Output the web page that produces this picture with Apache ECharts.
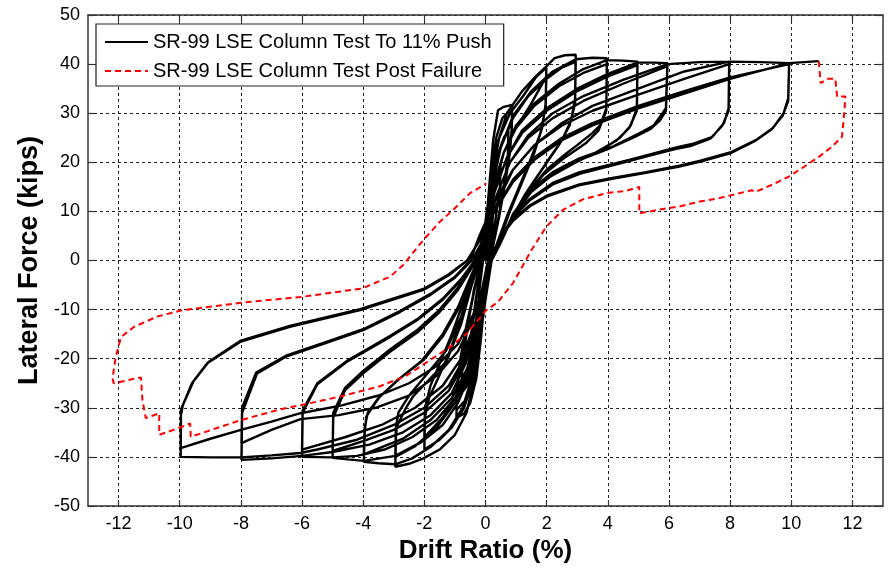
<!DOCTYPE html>
<html><head><meta charset="utf-8">
<script src="https://cdn.jsdelivr.net/npm/echarts@6/dist/echarts.min.js"></script>
<style>html,body{margin:0;padding:0;background:#fff}#c{width:888px;height:569px}</style>
</head><body><div id="c"></div>
<script>
// ---- tick labels ----
const xTicks = [-12,-10,-8,-6,-4,-2,0,2,4,6,8,10,12];
const seriesNames = ['SR-99 LSE Column Test To 11% Push','SR-99 LSE Column Test Post Failure'];

// ---- black series: cycles [drift %, force kips] ----
const cyc_025 = [[0,0],[0.1,5],[0.25,10],[0.22,7],[0.08,0],[-0.05,-4],[-0.25,-10],[-0.22,-7],[-0.08,0]];
const cyc_050 = [[-0.08,0],[0.05,6],[0.2,12.5],[0.38,17.5],[0.5,20],[0.47,15],[0.32,8],[0.12,0],[0,-5],[-0.15,-11.5],[-0.33,-17],[-0.5,-20.5],[-0.47,-15],[-0.32,-8],[-0.12,0]];
const cyc_075 = [[-0.12,0],[0.02,7],[0.2,15],[0.4,21.5],[0.6,25],[0.75,26.5],[0.73,21],[0.58,14],[0.35,6],[0.15,0],[0,-6],[-0.2,-14.5],[-0.4,-21.5],[-0.6,-25.5],[-0.78,-27],[-0.76,-21],[-0.6,-14],[-0.38,-6],[-0.15,0]];
const cyc_1a = [[-0.15,0],[0,6],[0.14,16.4],[0.25,24.5],[0.41,30.6],[0.6,31.3],[0.87,31.7],[0.86,27],[0.8,22],[0.65,16],[0.45,9],[0.25,3],[0.15,0],[0,-6],[-0.15,-16],[-0.3,-24],[-0.5,-29],[-0.7,-31.2],[-0.95,-32],[-0.94,-27],[-0.85,-21],[-0.65,-14],[-0.4,-7],[-0.2,-1.5],[-0.1,0]];
const cyc_1b = [[-0.1,0],[0.05,8],[0.2,18],[0.35,25],[0.55,29],[0.87,31],[0.85,26],[0.72,19.5],[0.52,12],[0.28,4],[0.12,0],[0,-5],[-0.15,-14],[-0.35,-22],[-0.6,-28],[-0.95,-30.5],[-0.93,-26],[-0.8,-20],[-0.55,-12],[-0.3,-4],[-0.15,0]];
const cyc_2a = [[-0.15,0],[0,7],[0.2,17],[0.45,25],[0.8,30],[1.22,33.4],[1.66,37.4],[1.99,39.3],[1.97,32],[1.85,27],[1.6,22],[1.2,16],[0.8,10],[0.45,4],[0.2,0],[0,-7],[-0.2,-16],[-0.4,-24],[-0.7,-30],[-1.1,-34],[-1.5,-36.5],[-2.0,-38.5],[-1.98,-32],[-1.85,-28],[-1.55,-24],[-1.2,-19],[-0.8,-12],[-0.45,-4.5],[-0.2,0]];
const cyc_2b = [[-0.2,0],[0,6],[0.25,15],[0.6,22],[1.0,27],[1.5,32],[1.99,37.5],[1.96,31],[1.8,26],[1.5,21],[1.1,15],[0.7,9],[0.35,3],[0.2,0],[0,-6],[-0.25,-14],[-0.5,-21],[-0.9,-27],[-1.4,-32],[-2.0,-36],[-1.98,-30],[-1.8,-25.5],[-1.5,-21],[-1.1,-15],[-0.7,-8],[-0.35,-2],[-0.2,0]];
const cyc_3a = [[-0.2,0],[0,8],[0.2,17],[0.4,24],[0.7,30],[1.2,34.5],[1.66,37.6],[2.0,39.6],[2.26,41.2],[2.6,41.8],[2.95,41.9],[2.93,33],[2.8,28.5],[2.5,24.5],[2.0,20],[1.4,14.5],[0.9,9],[0.45,3],[0.2,0],[0,-8],[-0.2,-17],[-0.4,-25],[-0.62,-31],[-1,-35.5],[-1.5,-38.5],[-2.03,-40.3],[-2.5,-41.4],[-2.95,-42],[-2.93,-36],[-2.9,-33.8],[-2.6,-30],[-2.37,-27.7],[-1.8,-24],[-1.27,-20.5],[-0.8,-13],[-0.45,-5],[-0.2,0]];
const cyc_3b = [[-0.2,0],[0,7],[0.25,16],[0.5,23],[0.9,29],[1.4,33.5],[2.0,37],[2.5,39.3],[2.95,40.5],[2.93,32],[2.75,27.5],[2.4,23.5],[1.9,19],[1.3,13.5],[0.8,8],[0.4,2.5],[0.2,0],[0,-6],[-0.25,-15],[-0.55,-23],[-1,-29],[-1.6,-34],[-2.3,-37.8],[-2.95,-40],[-2.93,-34],[-2.85,-31],[-2.5,-27.5],[-1.9,-23],[-1.3,-18.5],[-0.8,-11.5],[-0.45,-4],[-0.22,0]];
const cyc_4a = [[-0.22,0],[0,7],[0.25,16],[0.5,23],[0.9,29.5],[1.5,34.5],[2.2,38.5],[2.95,41],[3.5,41.3],[3.97,41.2],[3.95,31],[3.75,27.5],[3.5,26],[3.0,23.5],[2.64,21.8],[2.0,18.5],[1.4,14],[0.9,9],[0.45,3],[0.2,0],[0,-7],[-0.2,-16],[-0.45,-24],[-0.75,-30],[-1.2,-34.5],[-1.8,-38],[-2.4,-40.3],[-2.95,-41.5],[-3.5,-41.3],[-3.98,-41],[-3.95,-35],[-3.9,-31.8],[-3.6,-29],[-3.45,-27.7],[-2.8,-24],[-2.03,-20.3],[-1.4,-15.5],[-0.9,-10],[-0.5,-4],[-0.25,0]];
const cyc_4b = [[-0.25,0],[0,6],[0.3,15],[0.6,22],[1.0,27],[1.6,31.5],[2.4,35.5],[3.2,38.2],[3.97,40],[3.95,30.5],[3.7,26.5],[3.3,24],[2.6,21],[1.9,17.5],[1.3,13],[0.85,8.5],[0.45,3],[0.2,0],[0,-6],[-0.3,-15],[-0.6,-22],[-1.1,-28],[-1.8,-32.5],[-2.7,-36.3],[-3.98,-39.5],[-3.95,-34],[-3.85,-31],[-3.5,-28],[-2.9,-24.5],[-2.1,-20.5],[-1.4,-15],[-0.9,-9.5],[-0.5,-3.5],[-0.25,0]];
const cyc_5a = [[-0.25,0],[0,6],[0.3,15],[0.6,22],[1.0,27.5],[1.6,32],[2.4,36],[3.2,39],[3.97,40.8],[4.5,40.7],[4.97,40.5],[4.95,31],[4.75,27.5],[4.4,25],[3.8,22.5],[3.07,20.5],[2.2,17.5],[1.5,14],[0.9,9],[0.45,3],[0.2,0],[0,-7],[-0.25,-16],[-0.5,-23],[-0.9,-29],[-1.4,-33.5],[-2.1,-37],[-2.95,-39.8],[-3.98,-40.8],[-4.5,-40.5],[-5.0,-40.2],[-4.98,-32],[-4.59,-26.4],[-4.0,-23],[-3.1,-18.5],[-2.2,-14.5],[-1.5,-10.5],[-0.9,-6],[-0.4,-1],[-0.3,0]];
const cyc_5b = [[-0.3,0],[0,6],[0.3,14],[0.7,21],[1.2,26],[2,30.5],[3,34.5],[4,37.5],[4.97,39.8],[4.95,30.5],[4.7,27],[4.3,24.5],[3.6,22],[2.9,19.8],[2.1,17],[1.4,13.5],[0.85,8.5],[0.45,3],[0.2,0],[0,-5],[-0.3,-14],[-0.7,-21],[-1.2,-26.5],[-2,-31],[-3,-34.5],[-4,-36.8],[-5,-38.8],[-4.98,-31],[-4.6,-26],[-4.0,-22.5],[-3.1,-18],[-2.2,-14],[-1.5,-10],[-0.9,-5.5],[-0.4,-1],[-0.3,0]];
const cyc_6a = [[-0.3,0],[0,6],[0.3,14],[0.7,21],[1.2,26.5],[2,31],[3,35],[4,38],[4.97,40.3],[5.5,40.3],[5.95,40.2],[5.9,31],[5.79,30],[5.5,27.5],[5.03,25.9],[4.16,23.2],[3.07,20.8],[2.2,18],[1.5,14.5],[0.9,9.5],[0.45,3],[0.2,0],[0,-6],[-0.25,-15],[-0.55,-22],[-1,-28],[-1.6,-32.5],[-2.4,-36],[-3.3,-38.5],[-4.2,-39.8],[-5,-40.1],[-6,-40],[-5.98,-31],[-5.5,-25.2],[-4.5,-20.5],[-3.1,-15.5],[-2.2,-12],[-1.4,-8],[-0.8,-4],[-0.35,0]];
const cyc_6b = [[-0.35,0],[0,5],[0.35,13],[0.8,20],[1.4,25],[2.2,29],[3.2,32.5],[4.5,36],[5.95,39.6],[5.9,30.5],[5.7,28.5],[5.4,26.8],[4.9,25.2],[4.0,22.7],[3.0,20.3],[2.2,17.6],[1.5,14],[0.9,9],[0.45,3],[0.2,0],[0,-5],[-0.35,-13],[-0.8,-20],[-1.4,-25.5],[-2.3,-30],[-3.4,-33.5],[-4.6,-36],[-6,-38.5],[-5.98,-30.5],[-5.5,-25],[-4.5,-20.3],[-3.1,-15.3],[-2.2,-11.8],[-1.4,-7.8],[-0.8,-3.8],[-0.35,0]];
const cyc_8a = [[-0.35,0],[0,6],[0.35,13],[0.8,20],[1.4,25.5],[2.2,30],[3.2,33.5],[4.5,36.8],[5.95,40],[7,40.4],[7.97,40.5],[7.95,31],[7.8,28],[7.42,25.2],[6.8,23.8],[6.34,23.2],[5.5,21.8],[4.7,20.5],[3.08,18],[2.2,15.8],[1.44,12.5],[0.9,9],[0.45,4],[0.15,0],[0,-6],[-0.3,-14],[-0.65,-21],[-1.1,-27],[-1.8,-31.5],[-2.7,-35],[-3.8,-37.5],[-5,-39],[-6,-39.8],[-7,-40.3],[-7.98,-40.6],[-7.96,-31],[-7.47,-23],[-6.5,-19.5],[-5.3,-17],[-4,-14.2],[-2.8,-10.5],[-1.8,-7],[-1,-3.5],[-0.45,0]];
const cyc_8b = [[-0.45,0],[0,5],[0.4,12],[0.9,18.5],[1.6,23.5],[2.5,27.5],[3.5,30.5],[5,33.8],[6.5,37],[7.97,40],[7.95,30.5],[7.75,27.5],[7.35,24.8],[6.7,23.3],[6.2,22.7],[5.4,21.4],[4.6,20.1],[3.1,17.7],[2.2,15.5],[1.44,12.2],[0.9,8.8],[0.45,3.8],[0.15,0],[0,-5],[-0.4,-12],[-0.9,-18.5],[-1.6,-23.5],[-2.5,-27.5],[-3.6,-30],[-4.8,-31.5],[-6.05,-32.3],[-7,-34.5],[-7.98,-37.2],[-7.96,-30],[-7.5,-22.8],[-6.5,-19.3],[-5.3,-16.8],[-4,-14],[-2.8,-10.3],[-1.8,-6.8],[-1,-3.3],[-0.5,0]];
const cyc_10a = [[-0.5,0],[-0.2,5],[0.3,12],[0.9,18.5],[1.6,23.5],[2.5,28],[3.5,31.5],[5,35],[6.5,38.5],[7.97,40.5],[9,40.4],[9.93,40.2],[9.9,33],[9.75,30],[9.4,27],[8.84,24.5],[8,22],[7,20.3],[6.34,19.3],[5.25,18],[4.15,16.8],[3.07,15.5],[2,13.2],[1.44,11.2],[0.9,8.3],[0.47,4.8],[0.14,0],[0,-5],[-0.3,-13],[-0.7,-20],[-1.2,-25.5],[-2,-30],[-3,-33.5],[-4.2,-36.5],[-5.5,-38.5],[-6.05,-39.2],[-7,-39.7],[-8,-40.1],[-9,-40.1],[-9.97,-40],[-9.96,-32],[-9.96,-30.4],[-9.6,-25],[-9.1,-20.9],[-8,-16.5],[-6.4,-13.5],[-4.1,-10.1],[-2.03,-6],[-1.2,-3],[-0.6,0]];
const cyc_10b = [[-0.6,0],[-0.2,4],[0.3,10],[0.9,16.5],[1.6,21],[2.5,25],[3.5,28],[5,31.5],[6.5,34.5],[8,37.3],[9.93,40],[9.9,32.5],[9.72,29.5],[9.35,26.7],[8.8,24.3],[8,21.8],[7,20.1],[6.3,19.1],[5.2,17.8],[4.1,16.6],[3.05,15.3],[2,13],[1.44,11],[0.9,8.1],[0.47,4.6],[0.14,0],[0,-4],[-0.4,-11],[-0.9,-17],[-1.6,-21.5],[-2.5,-25],[-3.5,-27.5],[-4.7,-29.5],[-6.05,-31.1],[-7,-32.8],[-8,-34.5],[-9,-36.3],[-9.97,-38.2],[-9.96,-31.5],[-9.9,-29.5],[-9.55,-24.6],[-9.05,-20.6],[-8,-16.3],[-6.4,-13.3],[-4.1,-9.9],[-2.03,-5.8],[-1.2,-2.8],[-0.6,0]];
const push_11 = [[-0.6,0],[-0.2,4],[0.3,10],[0.9,16],[1.6,20.5],[2.5,24.5],[3.5,27.5],[5,31],[6.5,34],[8,37],[9.93,40.2],[10.9,40.6]];

// ---- red series: post failure ----
const postFailure = [[10.9,40.6],[10.96,40.6],[10.96,36.1],[11.17,37.0],[11.44,37.0],[11.5,33.4],[11.77,33.4],[11.75,31.5],[11.72,29.3],[11.66,25.2],[11.3,23.0],[10.9,21.1],[10.4,19.0],[9.92,17.1],[9.4,15.5],[8.84,14.0],[8.7,14.3],[7.64,12.7],[7.0,12.0],[6.34,11.0],[5.9,10.6],[5.03,9.6],[5.03,15.0],[4.6,14.2],[3.95,13.7],[3.2,12.5],[2.53,10.3],[1.99,6.9],[1.5,2.1],[0.9,-4.6],[0.4,-8.5],[0.03,-10.1],[-0.6,-14.8],[-1.2,-17.8],[-1.82,-20.3],[-2.6,-23.5],[-3.45,-25.6],[-4.75,-27.7],[-5.7,-29.0],[-6.7,-30.3],[-8.0,-32.5],[-9.64,-35.9],[-9.66,-33.2],[-10.07,-34.2],[-10.67,-35.5],[-10.67,-31.1],[-11.11,-32.1],[-11.22,-28.4],[-11.27,-23.8],[-12.16,-25.0],[-12.2,-24.0],[-12.09,-19.6],[-11.92,-15.6],[-11.49,-13.5],[-10.73,-11.4],[-9.97,-10.2],[-8.0,-8.6],[-6.0,-7.4],[-4.04,-5.7],[-3.12,-3.3],[-2.69,-0.9],[-2.03,4.2],[-1.49,7.9],[-1.06,10.3],[-0.51,13.7],[0.03,15.7]];

const pushTo11 = [].concat(cyc_025,cyc_050,cyc_075,cyc_1a,cyc_1b,cyc_2a,cyc_2b,cyc_3a,cyc_3b,cyc_4a,cyc_4b,cyc_5a,cyc_5b,cyc_6a,cyc_6b,cyc_8a,cyc_8b,cyc_10a,cyc_10b,push_11);

const FONT = 'Liberation Sans, Arial, sans-serif';
const chart = echarts.init(document.getElementById('c'), null, {renderer:'canvas'});
const axisCol = '#333';
const option = {
  animation:false,
  backgroundColor:'#fff',
  textStyle:{fontFamily:FONT},
  grid:{left:88,right:5,top:15,bottom:63},
  xAxis:[{
    type:'value',min:-13,max:13,position:'bottom',
    axisLine:{show:true,onZero:false,lineStyle:{color:axisCol,width:1.5}},
    axisTick:{show:true,inside:true,length:6,customValues:xTicks,lineStyle:{color:axisCol,width:1.2}},
    axisLabel:{customValues:xTicks,fontSize:18,color:'#000',margin:9,fontFamily:FONT},
    splitLine:{show:true,lineStyle:{type:[3,3],color:'#222',width:1}},
    name:'Drift Ratio (%)',nameLocation:'middle',nameGap:31,
    nameTextStyle:{fontSize:26,fontWeight:'bold',color:'#000',fontFamily:FONT}
  },{
    type:'value',min:-13,max:13,position:'top',
    axisLine:{show:true,onZero:false,lineStyle:{color:axisCol,width:1.5}},
    axisTick:{show:true,inside:true,length:6,customValues:xTicks,lineStyle:{color:axisCol,width:1.2}},
    axisLabel:{show:false},splitLine:{show:false}
  }],
  yAxis:[{
    type:'value',min:-50,max:50,interval:10,position:'left',
    axisLine:{show:true,onZero:false,lineStyle:{color:axisCol,width:1.5}},
    axisTick:{show:true,inside:true,length:6,lineStyle:{color:axisCol,width:1.2}},
    axisLabel:{fontSize:18,color:'#000',margin:8,fontFamily:FONT},
    splitLine:{show:true,lineStyle:{type:[3,3],color:'#222',width:1}},
    name:'Lateral Force (kips)',nameLocation:'middle',nameGap:40,
    nameTextStyle:{fontSize:27,fontWeight:'bold',color:'#000',fontFamily:FONT}
  },{
    type:'value',min:-50,max:50,interval:10,position:'right',
    axisLine:{show:true,onZero:false,lineStyle:{color:axisCol,width:1.5}},
    axisTick:{show:true,inside:true,length:6,lineStyle:{color:axisCol,width:1.2}},
    axisLabel:{show:false},splitLine:{show:false}
  }],
  legend:{
    left:96,top:24,orient:'vertical',backgroundColor:'#fff',borderColor:'#222',borderWidth:1.2,
    padding:[8,12,5,8],itemWidth:43,itemHeight:12,itemGap:9,
    itemStyle:{opacity:0},
    textStyle:{fontSize:20,color:'#000',fontFamily:FONT},
    data:seriesNames
  },
  series:[{
    name:seriesNames[0],type:'line',data:pushTo11,symbol:'none',showSymbol:false,
    lineStyle:{color:'#000',width:2.4},itemStyle:{color:'#000'},z:2
  },{
    name:seriesNames[1],type:'line',data:postFailure,symbol:'none',showSymbol:false,
    lineStyle:{color:'#ff0000',width:2,type:[6,4]},itemStyle:{color:'#ff0000'},z:3
  }]
};
chart.setOption(option);
</script>
</body></html>
